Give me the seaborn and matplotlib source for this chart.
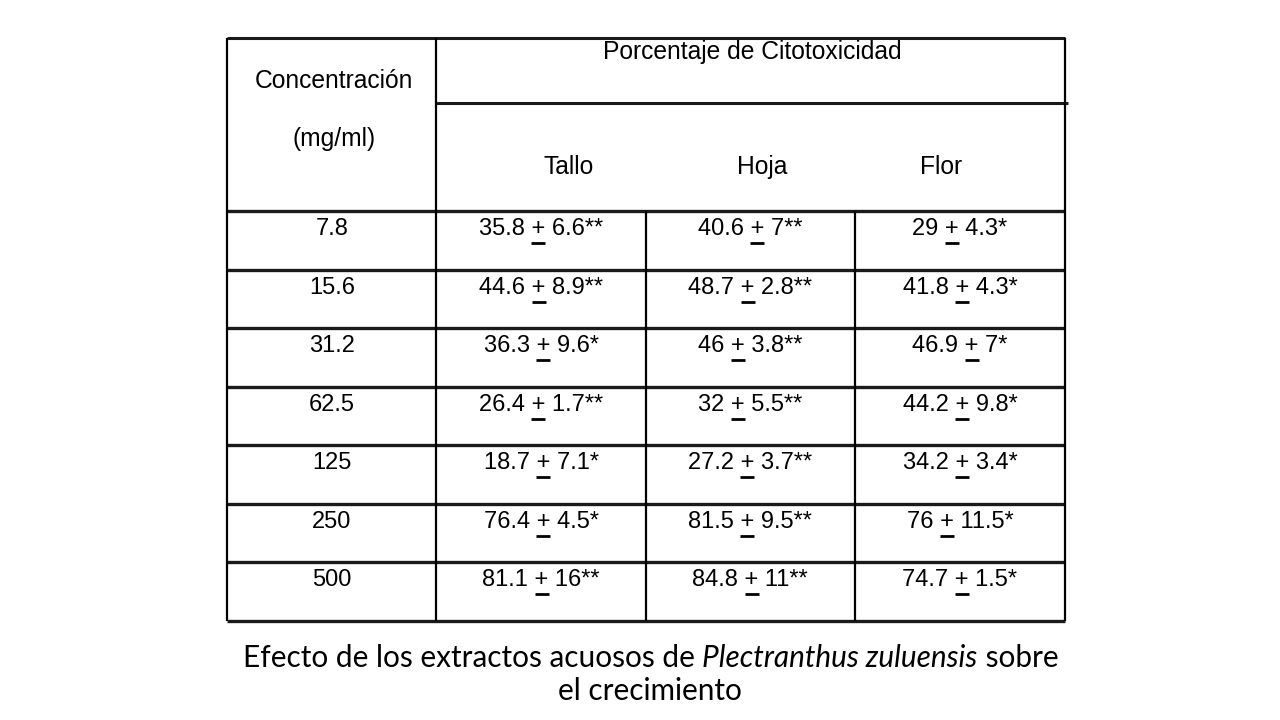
import pandas as pd
import seaborn as sns
import matplotlib.pyplot as plt

concentracion = ["7.8", "15.6", "31.2", "62.5", "125", "250", "500"]
tallo_media = [35.8, 44.6, 36.3, 26.4, 18.7, 76.4, 81.1]
tallo_de = [6.6, 8.9, 9.6, 1.7, 7.1, 4.5, 16]
tallo_sig = ["**", "**", "*", "**", "*", "*", "**"]
hoja_media = [40.6, 48.7, 46, 32, 27.2, 81.5, 84.8]
hoja_de = [7, 2.8, 3.8, 5.5, 3.7, 9.5, 11]
hoja_sig = ["**", "**", "**", "**", "**", "**", "**"]
flor_media = [29, 41.8, 46.9, 44.2, 34.2, 76, 74.7]
flor_de = [4.3, 4.3, 7, 9.8, 3.4, 11.5, 1.5]
flor_sig = ["*", "*", "*", "*", "*", "*", "*"]
partes = ["Tallo", "Hoja", "Flor"]

df = pd.DataFrame({
    "conc": concentracion,
    "Tallo": [f"{m:g} + {d:g}{s}" for m, d, s in zip(tallo_media, tallo_de, tallo_sig)],
    "Hoja": [f"{m:g} + {d:g}{s}" for m, d, s in zip(hoja_media, hoja_de, hoja_sig)],
    "Flor": [f"{m:g} + {d:g}{s}" for m, d, s in zip(flor_media, flor_de, flor_sig)],
})

sns.set_theme(style="white")
plt.rcParams["font.family"] = ["Liberation Sans", "DejaVu Sans"]
plt.rcParams["text.color"] = "black"

fig = plt.figure(figsize=(12.8, 7.2), dpi=100)
ax = fig.add_axes([0, 0, 1, 1])
ax.set_xlim(0, 1280)
ax.set_ylim(720, 0)
ax.axis("off")
renderer = fig.canvas.get_renderer()

# table geometry (pixels)
left, right, top, bottom = 227, 1065, 38, 621
x_div = [436, 646, 855]
header_mid, header_bot = 103, 211
row_h = (bottom - header_bot) / len(concentracion)

hcol = "#1a1a1a"
ax.hlines([top], left, right, color=hcol, lw=2.2)
ax.hlines([header_mid], x_div[0], right + 3, color=hcol, lw=2.2)
ax.hlines([header_bot + i * row_h for i in range(len(concentracion) + 1)], left, right, color=hcol, lw=2.4)
ax.vlines([left, x_div[0], right], top, bottom, color="black", lw=1.6)
ax.vlines(x_div[1:], header_bot, bottom, color="black", lw=1.6)

# header texts
ax.text(752, 52, "Porcentaje de Citotoxicidad", ha="center", va="center", fontsize=17.7)
ax.text(334, 81, "Concentración", ha="center", va="center", fontsize=17.7)
ax.text(334, 139, "(mg/ml)", ha="center", va="center", fontsize=17.7)
for name, cx in zip(partes, [569, 762, 941]):
    ax.text(cx, 167, name, ha="center", va="center", fontsize=17.7)


def width_of(s, **kw):
    t = ax.text(0, 0, s, **kw)
    w = t.get_window_extent(renderer).width
    t.remove()
    return w


fs = 17
col_x = {"conc": 332, "Tallo": 541, "Hoja": 750, "Flor": 960}
for i, row in df.iterrows():
    base = 235 + i * row_h
    ax.text(col_x["conc"], base, row["conc"], ha="center", va="baseline", fontsize=fs)
    for p in partes:
        s = row[p]
        ax.text(col_x[p], base, s, ha="center", va="baseline", fontsize=fs)
        w_all = width_of(s, fontsize=fs)
        pre = s[:s.index("+") + 1]
        pc = col_x[p] - w_all / 2 + width_of(pre, fontsize=fs) - width_of("+", fontsize=fs) / 2
        ax.plot([pc - 7, pc + 7], [base + 8, base + 8], color="black", lw=2, solid_capstyle="butt")

# caption with italic species name
cap_parts = [("Efecto de los extractos acuosos de ", "normal"),
             ("Plectranthus zuluensis", "italic"),
             (" sobre", "normal")]
cfam = ["Lato", "DejaVu Sans"]
cs = 21
tot = sum(width_of(t.replace(" ", "\u00a0"), fontsize=cs, family=cfam, style=st) for t, st in cap_parts)
cs = cs * 814 / tot
x = 650 - 814 / 2
for t, st in cap_parts:
    tt = t.replace(" ", "\u00a0")
    ax.text(x, 667, tt, ha="left", va="baseline", fontsize=cs, family=cfam, style=st)
    x += width_of(tt, fontsize=cs, family=cfam, style=st)
ax.text(650, 700, "el crecimiento", ha="center", va="baseline", fontsize=cs, family=cfam)

fig.savefig("out.png", dpi=100)
